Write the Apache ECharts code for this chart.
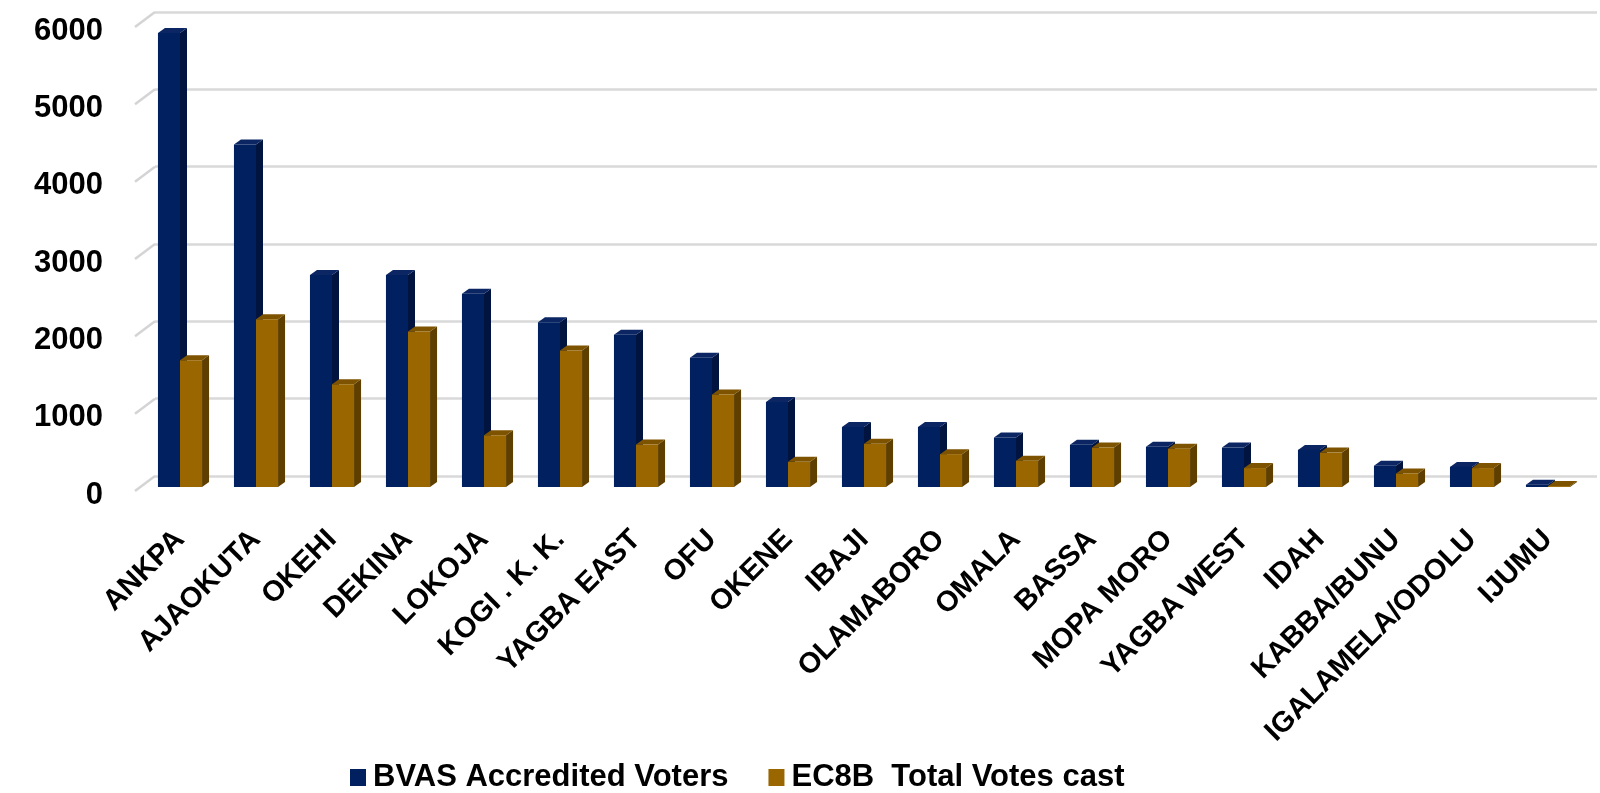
<!DOCTYPE html>
<html><head><meta charset="utf-8">
<script src="https://cdn.jsdelivr.net/npm/echarts@6/dist/echarts.min.js"></script>
<style>html,body{margin:0;padding:0;background:#fff}#c{width:1600px;height:793px}</style>
</head><body><div id="c"></div>
<script>
const categories = ['ANKPA','AJAOKUTA','OKEHI','DEKINA','LOKOJA','KOGI . K. K.','YAGBA EAST','OFU','OKENE','IBAJI','OLAMABORO','OMALA','BASSA','MOPA MORO','YAGBA WEST','IDAH','KABBA/BUNU','IGALAMELA/ODOLU','IJUMU'];
const bvasAccredited = [5870,4430,2740,2740,2500,2130,1970,1670,1100,775,775,640,545,520,510,480,275,260,30];
const ec8bTotalVotes = [1640,2170,1330,2010,670,1765,550,1195,325,560,425,340,510,495,245,445,175,245,12];
const yTicks = [0,1000,2000,3000,4000,5000,6000];
const seriesNames = ['BVAS Accredited Voters','EC8B  Total Votes cast'];

const palette = [
  {front:'#002060', side:'#00143f', top:'#0b2663'},
  {front:'#996600', side:'#5f3f00', top:'#7d5300'}
];

function bar3d(sIdx){
  return function(params, api){
    const ci = api.value(0), v = api.value(1);
    const base = api.coord([ci, 0]);
    const top = api.coord([ci, v]);
    const band = api.size([1, 0])[0];
    const bw = band * 0.29;
    const x0 = sIdx === 0 ? base[0] - bw : base[0];
    const x1 = x0 + bw;
    const dx = 7, dy = 5;
    const c = palette[sIdx];
    return {type:'group', children:[
      {type:'polygon', shape:{points:[[x1,top[1]],[x1+dx,top[1]-dy],[x1+dx,base[1]-dy],[x1,base[1]]]}, style:{fill:c.side}},
      {type:'polygon', shape:{points:[[x0,top[1]],[x0+dx,top[1]-dy],[x1+dx,top[1]-dy],[x1,top[1]]]}, style:{fill:c.top}},
      {type:'rect', shape:{x:x0, y:top[1], width:bw, height:base[1]-top[1]}, style:{fill:c.front}}
    ]};
  };
}

function stub(params, api){
  const p = api.coord([0, api.value(1)]);
  return {type:'line', shape:{x1:p[0], y1:p[1], x2:p[0]-20, y2:p[1]+15}, style:{stroke:'#d4d4d4', lineWidth:2.5}};
}

const chart = echarts.init(document.getElementById('c'));
chart.setOption({
  animation:false,
  backgroundColor:'#fff',
  grid:[
    {left:155, right:3, top:12, bottom:317},   // back wall (gridlines)
    {left:142, right:14, top:23, bottom:306},  // bars
    {left:135, right:14, top:31, bottom:298}   // front labels
  ],
  xAxis:[
    {gridIndex:0, type:'value', min:0, max:1, show:false},
    {gridIndex:1, type:'category', data:categories, axisLine:{show:false}, axisTick:{show:false},
     axisLabel:{interval:0, rotate:45, margin:48, color:'#000', fontFamily:'Liberation Sans, Arial, sans-serif', fontWeight:'bold', fontSize:29}},
    {gridIndex:2, type:'value', min:0, max:1, show:false}
  ],
  yAxis:[
    {gridIndex:0, type:'value', min:0, max:6000, interval:1000, axisLine:{show:false}, axisTick:{show:false}, axisLabel:{show:false},
     splitLine:{show:true, lineStyle:{color:'#d9d9d9', width:2.5}}},
    {gridIndex:1, type:'value', min:0, max:6000, interval:1000, show:false},
    {gridIndex:2, type:'value', min:0, max:6000, interval:1000, axisLine:{show:false}, axisTick:{show:false}, splitLine:{show:false},
     axisLabel:{margin:32, color:'#000', fontFamily:'Liberation Sans, Arial, sans-serif', fontWeight:'bold', fontSize:31, formatter:v=>String(v)}}
  ],
  legend:{
    left:345, top:757, itemWidth:16, itemHeight:17, itemGap:40, icon:'rect',
    textStyle:{color:'#000', fontFamily:'Liberation Sans, Arial, sans-serif', fontWeight:'bold', fontSize:31, padding:[0,0,0,2]},
    data:[
      {name:seriesNames[0], itemStyle:{color:palette[0].front}},
      {name:seriesNames[1], itemStyle:{color:palette[1].front}}
    ]
  },
  series:[
    {type:'custom', name:'stubs', xAxisIndex:0, yAxisIndex:0, data:yTicks.map(v=>[0, v]), renderItem:stub, silent:true, z:1, clip:false},
    {type:'custom', name:seriesNames[0], xAxisIndex:1, yAxisIndex:1, itemStyle:{color:palette[0].front},
     data:bvasAccredited.map((v,i)=>[i,v]), renderItem:bar3d(0), encode:{x:0,y:1}, z:3},
    {type:'custom', name:seriesNames[1], xAxisIndex:1, yAxisIndex:1, itemStyle:{color:palette[1].front},
     data:ec8bTotalVotes.map((v,i)=>[i,v]), renderItem:bar3d(1), encode:{x:0,y:1}, z:4}
  ]
});
</script></body></html>
